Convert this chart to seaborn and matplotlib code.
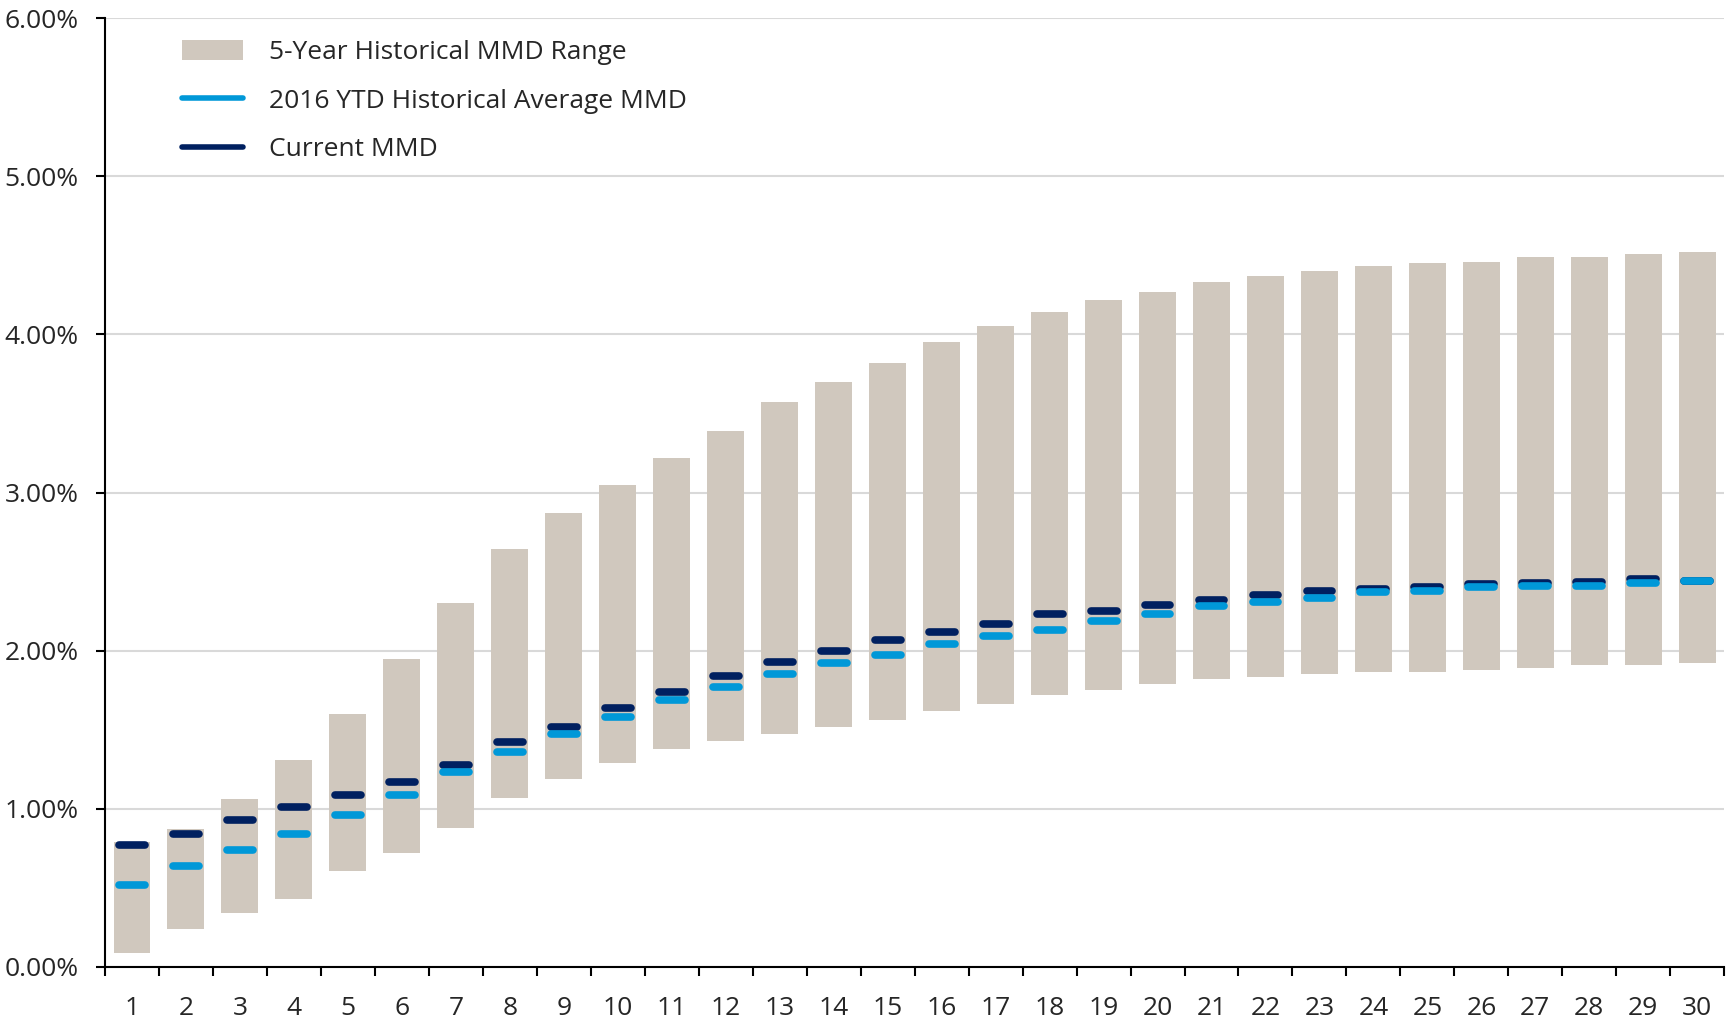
import matplotlib
matplotlib.use("Agg")
import matplotlib.pyplot as plt
import seaborn as sns
import pandas as pd
from matplotlib.ticker import FixedLocator, FuncFormatter
from matplotlib.patches import Patch
from matplotlib.lines import Line2D

# MMD curve by maturity (years), values in percent
years = list(range(1, 31))
range_low = [0.09, 0.24, 0.34, 0.43, 0.61, 0.72, 0.88, 1.07, 1.19, 1.29,
             1.38, 1.43, 1.47, 1.52, 1.56, 1.62, 1.66, 1.72, 1.75, 1.79,
             1.82, 1.835, 1.85, 1.865, 1.865, 1.88, 1.89, 1.91, 1.91, 1.92]
range_high = [0.79, 0.87, 1.06, 1.31, 1.60, 1.95, 2.30, 2.64, 2.87, 3.05,
              3.22, 3.39, 3.57, 3.70, 3.82, 3.95, 4.05, 4.14, 4.215, 4.27,
              4.33, 4.37, 4.40, 4.43, 4.45, 4.46, 4.49, 4.49, 4.51, 4.52]
ytd_avg = [0.52, 0.64, 0.74, 0.84, 0.96, 1.09, 1.23, 1.36, 1.47, 1.58,
           1.69, 1.77, 1.85, 1.92, 1.97, 2.04, 2.09, 2.13, 2.19, 2.23,
           2.28, 2.31, 2.33, 2.37, 2.38, 2.40, 2.41, 2.41, 2.43, 2.44]
current = [0.77, 0.84, 0.93, 1.01, 1.09, 1.17, 1.28, 1.42, 1.52, 1.64,
           1.74, 1.84, 1.93, 2.00, 2.07, 2.12, 2.17, 2.23, 2.25, 2.29,
           2.32, 2.35, 2.38, 2.39, 2.405, 2.42, 2.43, 2.435, 2.45, 2.44]

labels = ["5-Year Historical MMD Range", "2016 YTD Historical Average MMD", "Current MMD"]

TAN = "#d0c8be"
LIGHT = "#0098d8"
NAVY = "#002060"
TXT = "#262626"

sns.set_theme(style="white")
plt.rcParams['font.family'] = ['Open Sans', 'DejaVu Sans']

W, H = 1726, 1024
fig = plt.figure(figsize=(W / 100, H / 100), dpi=100)
ax = fig.add_axes([105 / W, 1 - 967 / H, 1 - 105 / W - 0.001, (967 - 18) / H])

df = pd.DataFrame({"year": [str(y) for y in years], "low": range_low, "high": range_high})
df["span"] = df["high"] - df["low"]

sns.barplot(data=df, x="year", y="span", bottom=df["low"].values, color=TAN,
            saturation=1, width=0.685, errorbar=None, edgecolor="none",
            ax=ax, zorder=2)

pos = list(range(len(years)))
half = 0.24
ax.hlines(current, [p - half for p in pos], [p + half for p in pos],
          color=NAVY, lw=5.5, capstyle="round", zorder=3)
ax.hlines(ytd_avg, [p - half for p in pos], [p + half for p in pos],
          color=LIGHT, lw=5.5, capstyle="round", zorder=4)

ax.set_xlim(-0.5, 29.5)
ax.set_ylim(0, 6)
ax.set_yticks(range(0, 7))
ax.yaxis.set_major_formatter(FuncFormatter(lambda v, _: f"{v:.2f}%"))
ax.set_xlabel("")
ax.set_ylabel("")

ax.grid(axis="y", color="#d9d9d9", lw=1.5)
ax.set_axisbelow(True)

ax.xaxis.set_minor_locator(FixedLocator([p - 0.5 for p in pos] + [29.5]))
ax.tick_params(axis="x", which="major", length=0, pad=21, labelsize=19, labelcolor=TXT)
ax.tick_params(axis="x", which="minor", length=6.5, width=1.5, color="black", direction="out", bottom=True)
ax.tick_params(axis="y", which="major", length=6.5, width=1.5, color="black", direction="out",
               left=True, pad=12.5, labelsize=19, labelcolor=TXT)

for s in ["top", "right"]:
    ax.spines[s].set_visible(False)
for s in ["left", "bottom"]:
    ax.spines[s].set_color("black")
    ax.spines[s].set_linewidth(1.5)

handles = [Patch(facecolor=TAN, edgecolor="none"),
           Line2D([], [], color=LIGHT, lw=4),
           Line2D([], [], color=NAVY, lw=4)]
fig.legend(handles, labels, loc="upper left", bbox_to_anchor=(182 / W, 1 - 40 / H),
           frameon=False, fontsize=19, labelcolor=TXT, handlelength=2.3,
           handleheight=0.8, handletextpad=1.0, labelspacing=0.88,
           borderpad=0, borderaxespad=0)

fig.savefig("out.png", dpi=100)
